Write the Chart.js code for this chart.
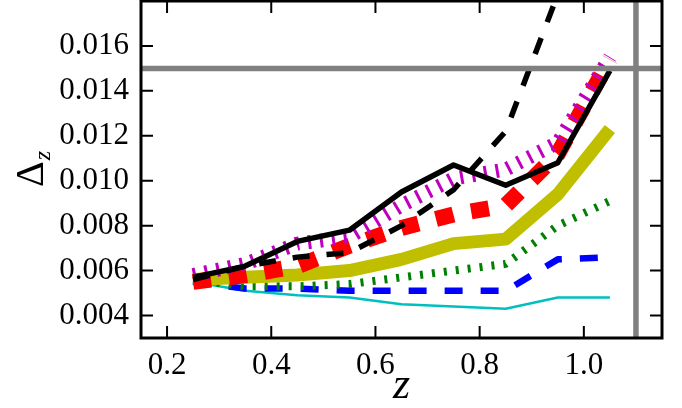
<!DOCTYPE html>
<html>
<head>
    <meta charset="utf-8">
    <title>Δz vs z</title>
    <script src="https://cdn.jsdelivr.net/npm/chart.js"></script>
    <style>
        html, body {
            margin: 0;
            padding: 0;
            background: #fff;
        }
        .chart-box {
            width: 682px;
            height: 408px;
        }
    </style>
</head>
<body>
    <div class="chart-box">
        <canvas id="myChart" width="682" height="408"></canvas>
    </div>

    <script>
        // redshift bin centres
        const zBins = [0.25, 0.35, 0.45, 0.55, 0.65, 0.75, 0.85, 0.95, 1.05];

        // Δz per bin, one array per curve
        const blackSolid  = [0.0057, 0.0062, 0.0073, 0.0078, 0.0095, 0.0107, 0.0098, 0.0108, 0.0149];
        const blackDashed = [0.0056, 0.0062, 0.0066, 0.0068, 0.0080, 0.0096, 0.0122, 0.0183, 0.0240];
        const magentaLine = [0.0058, 0.0063, 0.0072, 0.0075, 0.0089, 0.0101, 0.0105, 0.0117, 0.0155];
        const redLine     = [0.0055, 0.0058, 0.0062, 0.0071, 0.0079, 0.0085, 0.0089, 0.0112, 0.0154];
        const yellowLine  = [0.0056, 0.0057, 0.0058, 0.0060, 0.0065, 0.0072, 0.0074, 0.0094, 0.0123];
        const greenLine   = [0.0056, 0.0053, 0.0053, 0.0054, 0.0057, 0.0060, 0.0063, 0.0080, 0.0091];
        const blueLine    = [0.0055, 0.0052, 0.0052, 0.0051, 0.0051, 0.0051, 0.0051, 0.0065, 0.0066];
        const cyanLine    = [0.0055, 0.0051, 0.0049, 0.0048, 0.0045, 0.0044, 0.0043, 0.0048, 0.0048];

        // axis ticks
        const xTicks = [0.2, 0.4, 0.6, 0.8, 1.0];
        const yTicks = [0.004, 0.006, 0.008, 0.010, 0.012, 0.014, 0.016];

        // grey reference lines
        const zLimit = 1.1;
        const deltaLimit = 0.015;

        const serif = '"Liberation Serif", "Times New Roman", serif';

        function toPoints(values) {
            return zBins.map((z, i) => ({ x: z, y: values[i] }));
        }

        function curve(values, color, width, dash, order) {
            return {
                data: toPoints(values),
                borderColor: color,
                borderWidth: width,
                borderDash: dash,
                borderCapStyle: 'butt',
                borderJoinStyle: 'round',
                showLine: true,
                pointRadius: 0,
                tension: 0,
                order: order
            };
        }

        // frame, inward ticks, reference lines and the Δ_z label
        const framePlugin = {
            id: 'frame',
            afterDatasetsDraw(chart) {
                const ctx = chart.ctx;
                const a = chart.chartArea;
                const xs = chart.scales.x;
                const ys = chart.scales.y;
                ctx.save();

                ctx.strokeStyle = '#808080';
                ctx.lineWidth = 5.5;
                const yl = ys.getPixelForValue(deltaLimit);
                ctx.beginPath();
                ctx.moveTo(a.left, yl);
                ctx.lineTo(a.right, yl);
                ctx.stroke();
                const xl = xs.getPixelForValue(zLimit);
                ctx.beginPath();
                ctx.moveTo(xl, a.top);
                ctx.lineTo(xl, a.bottom);
                ctx.stroke();

                ctx.strokeStyle = '#000';
                ctx.lineWidth = 2;
                const tl = 12;
                ctx.beginPath();
                xTicks.forEach(v => {
                    const px = xs.getPixelForValue(v);
                    ctx.moveTo(px, a.bottom);
                    ctx.lineTo(px, a.bottom - tl);
                    ctx.moveTo(px, a.top);
                    ctx.lineTo(px, a.top + tl);
                });
                yTicks.forEach(v => {
                    const py = ys.getPixelForValue(v);
                    ctx.moveTo(a.left, py);
                    ctx.lineTo(a.left + tl, py);
                    ctx.moveTo(a.right, py);
                    ctx.lineTo(a.right - tl, py);
                });
                ctx.stroke();

                ctx.lineWidth = 3;
                ctx.strokeRect(a.left, a.top, a.right - a.left, a.bottom - a.top);

                // y axis title: Δ with subscript z
                ctx.translate(43, (a.top + a.bottom) / 2);
                ctx.rotate(-Math.PI / 2);
                ctx.fillStyle = '#000';
                ctx.textBaseline = 'alphabetic';
                ctx.font = '40px ' + serif;
                const w1 = ctx.measureText('Δ').width;
                ctx.font = 'italic 24px ' + serif;
                const w2 = ctx.measureText('z').width;
                const x0 = -(w1 + w2) / 2;
                ctx.font = '40px ' + serif;
                ctx.fillText('Δ', x0, 0);
                ctx.font = 'italic 24px ' + serif;
                ctx.fillText('z', x0 + w1 + 1, 7);

                ctx.restore();
            }
        };

        document.addEventListener('DOMContentLoaded', function() {
            const ctx = document.getElementById('myChart').getContext('2d');

            new Chart(ctx, {
                type: 'scatter',
                data: {
                    datasets: [
                        curve(blackDashed, '#000000', 5.5, [17, 17], 1),
                        curve(blackSolid, '#000000', 5.5, [], 2),
                        curve(magentaLine, '#bf00bf', 14, [3, 9], 3),
                        curve(redLine, '#ff0000', 16, [18, 18], 4),
                        curve(yellowLine, '#bfbf00', 13, [], 5),
                        curve(greenLine, '#008000', 8, [3, 9], 6),
                        curve(blueLine, '#0000ff', 6.5, [18, 18], 7),
                        curve(cyanLine, '#00bfbf', 2.5, [], 8)
                    ]
                },
                options: {
                    responsive: false,
                    animation: false,
                    devicePixelRatio: 1,
                    layout: {
                        padding: { top: 1, right: 20, left: 0, bottom: 0 }
                    },
                    plugins: {
                        legend: { display: false },
                        tooltip: { enabled: false }
                    },
                    scales: {
                        x: {
                            type: 'linear',
                            min: 0.15,
                            max: 1.15,
                            grid: { display: false },
                            border: { display: false },
                            afterBuildTicks: s => { s.ticks = xTicks.map(v => ({ value: v })); },
                            afterFit: s => {
                                s.height = 70;
                                s.paddingLeft = 0;
                                s.paddingRight = 0;
                            },
                            ticks: {
                                color: '#000',
                                padding: 1,
                                maxRotation: 0,
                                autoSkip: false,
                                font: { family: serif, size: 31 },
                                callback: v => v.toFixed(1)
                            },
                            title: {
                                display: true,
                                text: 'z',
                                color: '#000',
                                padding: 0,
                                font: { family: serif, size: 44, style: 'italic', lineHeight: 1 }
                            }
                        },
                        y: {
                            min: 0.003,
                            max: 0.018,
                            grid: { display: false },
                            border: { display: false },
                            afterBuildTicks: s => { s.ticks = yTicks.map(v => ({ value: v })); },
                            afterFit: s => {
                                s.width = 141;
                                s.paddingTop = 0;
                                s.paddingBottom = 0;
                            },
                            ticks: {
                                color: '#000',
                                padding: 4,
                                autoSkip: false,
                                font: { family: serif, size: 31 },
                                callback: v => v.toFixed(3)
                            }
                        }
                    }
                },
                plugins: [framePlugin]
            });
        });
    </script>
</body>
</html>
